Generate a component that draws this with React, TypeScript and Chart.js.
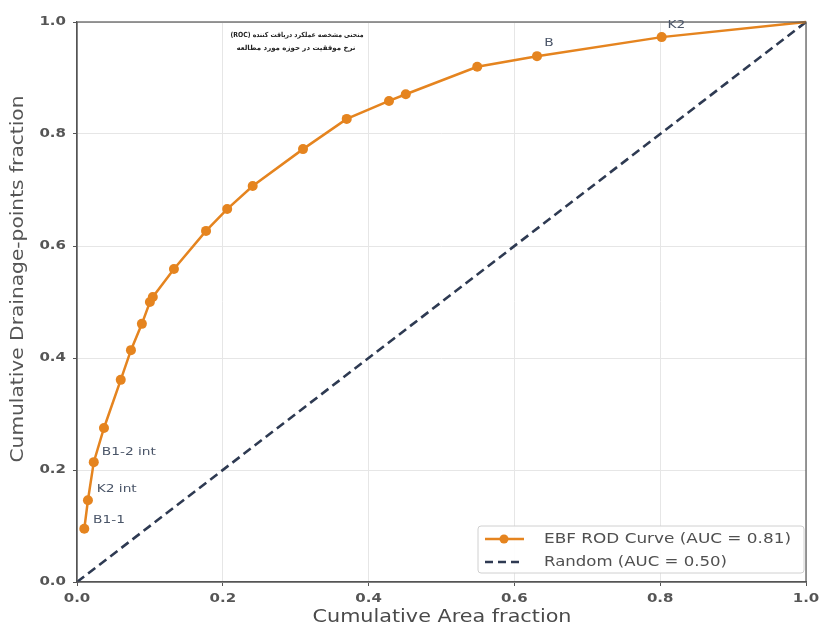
import React, { useEffect, useRef } from "react";
import { Chart, registerables } from "chart.js";
Chart.register(...registerables);

const curveX = [0.01, 0.015, 0.023, 0.037, 0.06, 0.074, 0.089, 0.1, 0.104, 0.133, 0.177, 0.206, 0.241, 0.31, 0.37, 0.428, 0.451, 0.549, 0.631, 0.802, 1.0];
const curveY = [0.095, 0.146, 0.214, 0.275, 0.361, 0.414, 0.461, 0.5, 0.509, 0.559, 0.627, 0.666, 0.707, 0.773, 0.827, 0.859, 0.871, 0.92, 0.939, 0.973, 1.0];
const randomX = [0, 1];
const randomY = [0, 1];
const pointLabels = ["B1-1", "K2 int", "B1-2 int", "B", "K2"];
const labelX = [0.022, 0.027, 0.034, 0.641, 0.81];
const labelY = [0.11, 0.166, 0.232, 0.962, 0.995];
const legendLabels = ["EBF ROD Curve (AUC = 0.81)", "Random (AUC = 0.50)"];
const titleLines = ["(ROC) منحنی مشخصه عملکرد دریافت کننده", "نرخ موفقیت در حوزه مورد مطالعه"];
const tickValues = [0, 0.2, 0.4, 0.6, 0.8, 1.0];
const xTitle = "Cumulative Area fraction";
const yTitle = "Cumulative Drainage-points fraction";

const ORANGE = "#E5841F";
const NAVY = "#2E3A52";
const FONT = "'DejaVu Sans'";

function stretch(ctx: CanvasRenderingContext2D, text: string, x: number, y: number, sx: number, align: CanvasTextAlign) {
  ctx.save();
  ctx.translate(x, y);
  ctx.scale(sx, 1);
  ctx.textAlign = align;
  ctx.fillText(text, 0, 0);
  ctx.restore();
}
function fitWidth(ctx: CanvasRenderingContext2D, text: string, w: number) {
  return w / ctx.measureText(text).width;
}

export default function App() {
  const ref = useRef<HTMLCanvasElement>(null);
  useEffect(() => {
    document.body.style.margin = "0";
    const canvas = ref.current!;
    const overlay = {
      id: "overlay",
      afterDraw(chart: any) {
        const ctx: CanvasRenderingContext2D = chart.ctx;
        const xs = chart.scales.x;
        const ys = chart.scales.y;
        const a = chart.chartArea;
        ctx.save();
        ctx.textBaseline = "middle";
        // frame
        ctx.strokeStyle = "#555";
        ctx.lineWidth = 1.2;
        ctx.strokeRect(a.left, a.top, a.right - a.left, a.bottom - a.top);
        // tick labels
        ctx.fillStyle = "#555";
        ctx.font = `bold 12px ${FONT}`;
        tickValues.forEach((v) => {
          const t = v.toFixed(1);
          stretch(ctx, t, 66, ys.getPixelForValue(v), 1.25, "right");
          stretch(ctx, t, xs.getPixelForValue(v), 599, 1.25, "center");
        });
        // axis titles
        ctx.fillStyle = "#4a4a4a";
        ctx.font = `17px ${FONT}`;
        stretch(ctx, xTitle, 442, 618, fitWidth(ctx, xTitle, 259), "center");
        ctx.fillStyle = "#555";
        ctx.font = `17px ${FONT}`;
        const sy = fitWidth(ctx, yTitle, 367);
        ctx.save();
        ctx.translate(19, 279);
        ctx.rotate(-Math.PI / 2);
        stretch(ctx, yTitle, 0, 0, sy, "center");
        ctx.restore();
        // point labels
        ctx.fillStyle = "#4A5568";
        ctx.font = `11px ${FONT}`;
        pointLabels.forEach((t, i) => {
          stretch(ctx, t, xs.getPixelForValue(labelX[i]), ys.getPixelForValue(labelY[i]), 1.25, "left");
        });
        // title
        ctx.fillStyle = "#222";
        ctx.font = `bold 7px ${FONT}`;
        stretch(ctx, titleLines[0], 297, 35, fitWidth(ctx, titleLines[0], 133), "center");
        stretch(ctx, titleLines[1], 296, 48, fitWidth(ctx, titleLines[1], 119), "center");
        // legend
        const lx = 478, ly = 526, lw = 326, lh = 47;
        ctx.fillStyle = "rgba(255,255,255,0.92)";
        ctx.strokeStyle = "#d0d0d0";
        ctx.lineWidth = 1;
        ctx.beginPath();
        ctx.roundRect(lx, ly, lw, lh, 3);
        ctx.fill();
        ctx.stroke();
        ctx.strokeStyle = ORANGE;
        ctx.lineWidth = 2.5;
        ctx.beginPath();
        ctx.moveTo(485, 539);
        ctx.lineTo(524, 539);
        ctx.stroke();
        ctx.fillStyle = ORANGE;
        ctx.beginPath();
        ctx.arc(504, 539, 4.5, 0, Math.PI * 2);
        ctx.fill();
        ctx.strokeStyle = NAVY;
        ctx.setLineDash([8, 5]);
        ctx.beginPath();
        ctx.moveTo(485, 562);
        ctx.lineTo(524, 562);
        ctx.stroke();
        ctx.setLineDash([]);
        ctx.fillStyle = "#505050";
        ctx.font = `14px ${FONT}`;
        stretch(ctx, legendLabels[0], 544, 539, fitWidth(ctx, legendLabels[0], 247), "left");
        stretch(ctx, legendLabels[1], 544, 562, fitWidth(ctx, legendLabels[1], 183), "left");
        ctx.restore();
      },
    };
    const chart = new Chart(canvas, {
      type: "scatter",
      data: {
        datasets: [
          {
            label: legendLabels[1],
            data: randomX.map((x, i) => ({ x, y: randomY[i] })),
            showLine: true,
            borderColor: NAVY,
            borderWidth: 2.6,
            borderDash: [9, 5],
            pointRadius: 0,
            order: 2,
          },
          {
            label: legendLabels[0],
            data: curveX.map((x, i) => ({ x, y: curveY[i] })),
            showLine: true,
            borderColor: ORANGE,
            backgroundColor: ORANGE,
            borderWidth: 2.5,
            pointRadius: curveX.map((x, i) => (i === curveX.length - 1 ? 0 : 5)),
            pointBorderWidth: 0,
            order: 1,
          },
        ],
      },
      options: {
        animation: false,
        responsive: false,
        clip: false as any,
        layout: { padding: { top: 22, right: 14, left: 0, bottom: 0 } },
        plugins: { legend: { display: false }, tooltip: { enabled: false } },
        scales: {
          x: {
            type: "linear",
            min: 0,
            max: 1,
            afterBuildTicks: (s: any) => { s.ticks = tickValues.map((v) => ({ value: v })); },
            afterFit: (s: any) => { s.height = 46; },
            ticks: { display: false },
            grid: { color: "#e6e6e6", tickColor: "#555", tickLength: 4 },
            border: { color: "#555", width: 1.2 },
          },
          y: {
            type: "linear",
            min: 0,
            max: 1,
            afterBuildTicks: (s: any) => { s.ticks = tickValues.map((v) => ({ value: v })); },
            afterFit: (s: any) => { s.width = 77; },
            ticks: { display: false },
            grid: { color: "#e6e6e6", tickColor: "#555", tickLength: 4 },
            border: { color: "#555", width: 1.2 },
          },
        },
      },
      plugins: [overlay],
    });
    return () => chart.destroy();
  }, []);
  return (
    <div style={{ width: 820, height: 628, background: "#fff" }}>
      <canvas ref={ref} width={820} height={628} style={{ display: "block" }} />
    </div>
  );
}
